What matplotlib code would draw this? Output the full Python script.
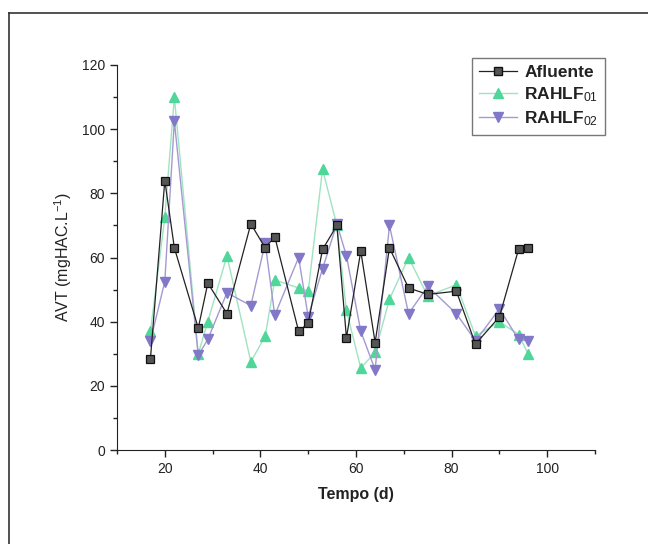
import matplotlib
matplotlib.use("Agg")
import matplotlib.pyplot as plt
from matplotlib.ticker import MultipleLocator
from matplotlib.lines import Line2D

plt.rcParams["font.family"] = ["Liberation Sans", "DejaVu Sans"]
plt.rcParams["mathtext.fontset"] = "custom"
plt.rcParams["mathtext.rm"] = "Liberation Sans"
plt.rcParams["mathtext.it"] = "Liberation Sans:italic"
plt.rcParams["mathtext.bf"] = "Liberation Sans:bold"

# tempo (d)
dias_afl = [17, 20, 22, 27, 29, 33, 38, 41, 43, 48, 50, 53, 56, 58, 61, 64, 67, 71, 75, 81, 85, 90, 94, 96]
afluente = [28.5, 84, 63, 38, 52, 42.5, 70.5, 63, 66.5, 37, 39.5, 62.5, 70, 35, 62, 33.5, 63, 50.5, 48.5, 49.5, 33, 41.5, 62.5, 63]

dias_r = [17, 20, 22, 27, 29, 33, 38, 41, 43, 48, 50, 53, 56, 58, 61, 64, 67, 71, 75, 81, 85, 90, 94, 96]
rahlf01 = [37, 72.5, 110, 30, 40, 60.5, 27.5, 35.5, 53, 50.5, 49.5, 87.5, 70, 43.5, 25.5, 30.5, 47, 60, 48, 51.5, 35.5, 40, 36, 30]
rahlf02 = [34, 52.5, 102.5, 29.5, 34.5, 49, 45, 64.5, 42, 60, 41.5, 56.5, 70.5, 60.5, 37, 25, 70, 42.5, 51, 42.5, 34, 44, 34.5, 34]

fig = plt.figure(figsize=(6.48, 5.44), dpi=100)
fig.set_facecolor("white")
ax = fig.add_axes([117 / 648, 1 - 450 / 544, (595 - 117) / 648, (450 - 65) / 544])

# green and purple first, black on top
ax.plot(dias_r, rahlf01, "-", color="#9fe3c2", lw=1.0, marker="^", ms=6.5,
        mfc="#4fd79a", mec="#4fd79a", zorder=2)
ax.plot(dias_r, rahlf02, "-", color="#a49ad0", lw=1.0, marker="v", ms=7,
        mfc="#8278c8", mec="#8278c8", zorder=3)
ax.plot(dias_afl, afluente, "-", color="#222222", lw=0.9, marker="s", ms=5.5,
        mfc="#555555", mec="#111111", mew=0.9, zorder=4)

ax.set_xlim(10, 110)
ax.set_ylim(0, 120)
ax.xaxis.set_major_locator(MultipleLocator(20))
ax.xaxis.set_minor_locator(MultipleLocator(10))
ax.yaxis.set_major_locator(MultipleLocator(20))
ax.yaxis.set_minor_locator(MultipleLocator(10))
ax.set_xticks([20, 40, 60, 80, 100])

ax.spines["top"].set_visible(False)
ax.spines["right"].set_visible(False)
ax.spines["left"].set_color("#222222")
ax.spines["bottom"].set_color("#222222")
ax.tick_params(which="major", direction="out", length=5, width=1, labelsize=10, colors="#222222")
ax.tick_params(which="minor", direction="out", length=3, width=1, colors="#222222")

ax.set_xlabel("Tempo (d)", fontsize=11.5, fontweight="bold", color="#222222", labelpad=8)
ax.set_ylabel(r"AVT (mgHAC.L$^{\mathrm{-1}}$)", fontsize=11.5, color="#222222", labelpad=6)

handles = [
    Line2D([], [], color="#222222", lw=0.9, marker="s", ms=5.5, mfc="#555555", mec="#111111"),
    Line2D([], [], color="#9fe3c2", lw=1.0, marker="^", ms=6.5, mfc="#4fd79a", mec="#4fd79a"),
    Line2D([], [], color="#a49ad0", lw=1.0, marker="v", ms=7, mfc="#8278c8", mec="#8278c8"),
]
labels = ["Afluente", r"RAHLF$_{\mathrm{01}}$", r"RAHLF$_{\mathrm{02}}$"]
leg = fig.legend(handles, labels, loc="upper right", bbox_to_anchor=(614 / 648, 1 - 49 / 544),
                 frameon=True, fancybox=False, edgecolor="#555555",
                 prop={"weight": "bold", "size": 12.5}, handlelength=2.2, handletextpad=0.4,
                 borderpad=0.4, labelspacing=0.3)
leg.get_frame().set_linewidth(1.0)
for t in leg.get_texts():
    t.set_color("#222222")

# moldura da figura (linha superior e esquerda)
fig.add_artist(Line2D([9 / 648, 1.0], [1 - 13 / 544, 1 - 13 / 544], color="#333333", lw=1.2))
fig.add_artist(Line2D([9 / 648, 9 / 648], [0.0, 1 - 13 / 544], color="#333333", lw=1.2))

fig.savefig("out.png", dpi=100, facecolor="white")
